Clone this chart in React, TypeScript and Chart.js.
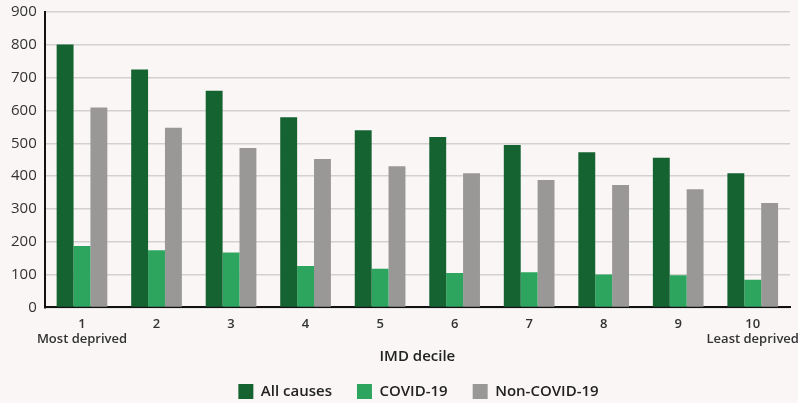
import React, { useEffect, useRef } from "react";
import { Chart, registerables } from "chart.js";

Chart.register(...registerables);

const deciles: (string | string[])[] = [
  ["1", "Most deprived"],
  "2",
  "3",
  "4",
  "5",
  "6",
  "7",
  "8",
  "9",
  ["10", "Least deprived"],
];
const allCauses = [801, 725, 660, 579, 540, 519, 495, 473, 456, 409];
const covid19 = [187, 174, 167, 126, 118, 105, 107, 100, 98, 84];
const nonCovid19 = [609, 547, 486, 452, 430, 409, 388, 373, 360, 318];
const yTicks = [0, 100, 200, 300, 400, 500, 600, 700, 800, 900];

const FONT = "'Open Sans', sans-serif";

export default function App() {
  const ref = useRef<HTMLCanvasElement | null>(null);
  useEffect(() => {
    document.body.style.margin = "0";
    document.body.style.background = "#f9f6f5";
    const canvas = ref.current!;
    const bg = {
      id: "bg",
      beforeDraw(c: any) {
        const ctx = c.ctx;
        ctx.save();
        ctx.fillStyle = "#f9f6f5";
        ctx.fillRect(0, 0, c.width, c.height);
        ctx.restore();
      },
    };
    const legendShift = {
      id: "legendShift",
      afterLayout(c: any) {
        const lg = c.legend;
        if (lg) {
          lg.left += 22;
          lg.right += 22;
        }
      },
    };
    const chart = new Chart(canvas, {
      type: "bar",
      data: {
        labels: deciles as any,
        datasets: [
          { label: "All causes", data: allCauses, backgroundColor: "#146330" },
          { label: "COVID-19", data: covid19, backgroundColor: "#2ea55e" },
          { label: "Non-COVID-19", data: nonCovid19, backgroundColor: "#999896" },
        ],
      },
      options: {
        responsive: false,
        animation: false,
        devicePixelRatio: 1,
        layout: { padding: { top: 12, right: 8, left: 3, bottom: -6 } },
        datasets: {
          bar: { categoryPercentage: 0.68, barPercentage: 1, borderWidth: 0 },
        },
        scales: {
          x: {
            grid: { display: false },
            border: { display: true, color: "#111", width: 2 },
            ticks: {
              color: "#333",
              font: { family: FONT, size: 13, weight: 600 as any, lineHeight: 1.1 },
              padding: 2,
              maxRotation: 0,
              autoSkip: false,
            },
            title: {
              display: true,
              text: "IMD decile",
              color: "#222",
              font: { family: FONT, size: 15, weight: 600 as any },
              padding: { top: 0, bottom: -7 },
            },
            afterFit(scale: any) {
              scale.paddingLeft = 0;
              scale.paddingRight = 0;
            },
          },
          y: {
            min: 0,
            max: 900,
            afterBuildTicks(scale: any) {
              scale.ticks = yTicks.map((v) => ({ value: v }));
            },
            afterFit(scale: any) {
              scale.paddingTop = 0;
              scale.paddingBottom = 0;
            },
            grid: { color: "#d3d1cf", lineWidth: 1.5, drawTicks: false },
            border: { display: true, color: "#111", width: 2 },
            ticks: {
              color: "#333",
              font: { family: FONT, size: 15, weight: 500 as any },
              padding: 8,
            },
          },
        },
        plugins: {
          legend: {
            position: "bottom",
            labels: {
              boxWidth: 15,
              boxHeight: 15,
              padding: 25,
              color: "#222",
              font: { family: FONT, size: 15, weight: 600 as any },
            },
          },
          tooltip: { enabled: false },
        },
      },
      plugins: [bg, legendShift],
    });
    return () => chart.destroy();
  }, []);
  return <canvas ref={ref} width={798} height={403} style={{ display: "block" }} />;
}
